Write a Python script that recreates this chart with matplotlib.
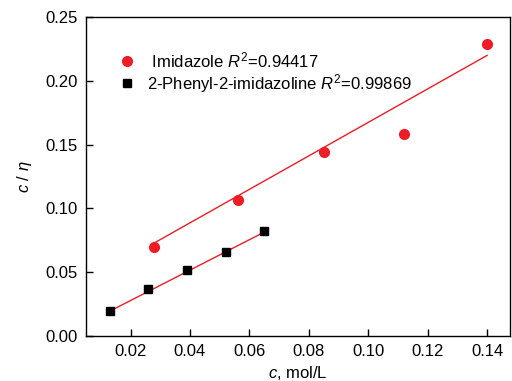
import matplotlib
matplotlib.use("Agg")
import matplotlib.pyplot as plt

plt.rcParams['font.family'] = ['Liberation Sans', 'DejaVu Sans']
plt.rcParams['mathtext.fontset'] = 'custom'
plt.rcParams['mathtext.it'] = 'Liberation Sans:italic'
plt.rcParams['mathtext.rm'] = 'Liberation Sans'

# data
imid_c = [0.028, 0.056, 0.085, 0.112, 0.140]
imid_y = [0.070, 0.107, 0.144, 0.158, 0.229]
phen_c = [0.013, 0.026, 0.039, 0.052, 0.065]
phen_y = [0.020, 0.037, 0.052, 0.066, 0.082]
# fitted lines as drawn in the reference (end points)
imid_fit_c = [0.028, 0.140]
imid_fit_y = [0.073, 0.220]
phen_fit_c = [0.013, 0.065]
phen_fit_y = [0.0195, 0.0815]
xticks = [0.02, 0.04, 0.06, 0.08, 0.10, 0.12, 0.14]
yticks = [0.00, 0.05, 0.10, 0.15, 0.20, 0.25]

fig = plt.figure(figsize=(5.12, 3.81), dpi=100)
ax = fig.add_axes([0.168, 0.118, 0.828, 0.837])

ax.plot(imid_fit_c, imid_fit_y, color="#ee1c25", lw=1.0, zorder=1)
ax.plot(phen_fit_c, phen_fit_y, color="#ee1c25", lw=1.0, zorder=1)

ax.plot(imid_c, imid_y, "o", color="#ee1c25", ms=7, ls="none",
        label=r" Imidazole $R^2$=0.94417", zorder=2)
ax.plot(phen_c, phen_y, "s", color="black", ms=6, ls="none",
        label=r"2-Phenyl-2-imidazoline $R^2$=0.99869", zorder=2)

ax.set_xlim(0.005, 0.1477)
ax.set_ylim(0.0, 0.25)
ax.set_xticks(xticks)
ax.set_yticks(yticks)
ax.set_xticklabels(["%.2f" % v for v in xticks])
ax.set_yticklabels(["%.2f" % v for v in yticks])
ax.tick_params(direction="in", length=5, width=1, labelsize=12, pad=6)
for s in ax.spines.values():
    s.set_linewidth(1.0)

ax.set_xlabel(r"$c$, mol/L", fontsize=12, labelpad=3)
ax.set_ylabel(r"$c$ / $\eta$", fontsize=12, labelpad=8)

ax.legend(loc="upper left", frameon=False, fontsize=12, handletextpad=0.2,
          borderaxespad=1.0, labelspacing=0.12, bbox_to_anchor=(0.003, 0.97))

fig.savefig("out.png", dpi=100)
